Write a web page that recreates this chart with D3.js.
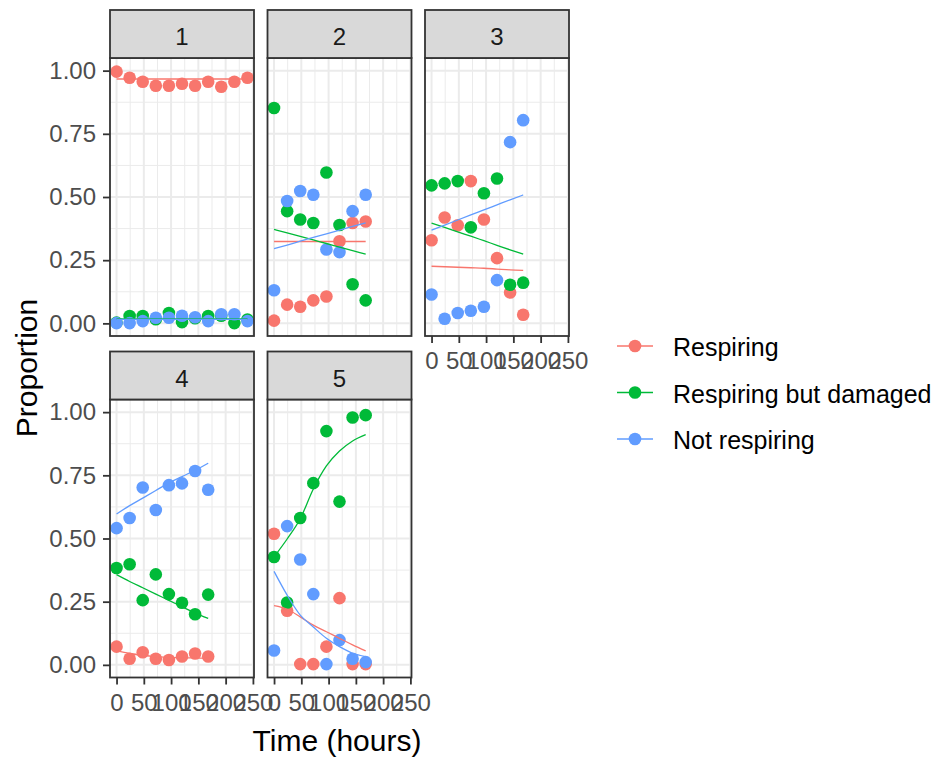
<!DOCTYPE html>
<html>
<head>
<meta charset="utf-8">
<script src="https://cdnjs.cloudflare.com/ajax/libs/d3/7.8.5/d3.min.js"></script>
<style>
	body { margin: 0; background: #fff; }
	text { font-family: "Liberation Sans", Arial, sans-serif; }
</style>
</head>
<body>
<div id="chart"></div>
<script>

// time points (hours)
var timesLong = [0, 24, 48, 72, 96, 120, 144, 168, 192, 216, 240];
var timesShort = [0, 24, 48, 72, 96, 120, 144, 168];

var seriesNames = ["Respiring", "Respiring but damaged", "Not respiring"];
var panelNames = ["1", "2", "3", "4", "5"];

var xTicks = [0, 50, 100, 150, 200, 250];
var xMinor = [25, 75, 125, 175, 225];
var yTicks = [0, 0.25, 0.5, 0.75, 1];
var yMinor = [0.125, 0.375, 0.625, 0.875];

// observed proportions
var p1Resp = [0.996, 0.972, 0.956, 0.94, 0.94, 0.948, 0.94, 0.956, 0.936, 0.956, 0.972];
var p1Dam = [0.003, 0.029, 0.029, 0.016, 0.041, 0.005, 0.02, 0.029, 0.03, 0.001, 0.015];
var p1Not = [0.001, 0.001, 0.009, 0.022, 0.022, 0.03, 0.024, 0.009, 0.036, 0.036, 0.009];

var p2Resp = [0.011, 0.074, 0.066, 0.091, 0.106, 0.325, 0.397, 0.403];
var p2Dam = [0.852, 0.444, 0.411, 0.397, 0.597, 0.389, 0.155, 0.091];
var p2Not = [0.131, 0.484, 0.524, 0.509, 0.292, 0.282, 0.444, 0.509];

var p3Resp = [0.329, 0.419, 0.388, 0.563, 0.411, 0.258, 0.122, 0.034];
var p3Dam = [0.546, 0.554, 0.563, 0.38, 0.515, 0.573, 0.153, 0.161];
var p3Not = [0.114, 0.018, 0.041, 0.05, 0.066, 0.171, 0.717, 0.804];

var p4Resp = [0.072, 0.024, 0.05, 0.024, 0.019, 0.033, 0.045, 0.033];
var p4Dam = [0.383, 0.398, 0.256, 0.358, 0.28, 0.246, 0.2, 0.278];
var p4Not = [0.541, 0.581, 0.702, 0.613, 0.711, 0.718, 0.767, 0.693];

var p5Resp = [0.519, 0.214, 0.003, 0.003, 0.072, 0.264, 0.003, 0.003];
var p5Dam = [0.427, 0.247, 0.581, 0.719, 0.925, 0.646, 0.979, 0.988];
var p5Not = [0.057, 0.549, 0.417, 0.28, 0.003, 0.098, 0.024, 0.011];

// fitted curves
var f1Resp = [0.967, 0.967, 0.967, 0.967, 0.967, 0.967, 0.967, 0.967, 0.967, 0.967, 0.967];
var f1Dam = [0.018, 0.018, 0.018, 0.018, 0.018, 0.018, 0.018, 0.018, 0.018, 0.018, 0.018];
var f1Not = [0.016, 0.016, 0.016, 0.016, 0.016, 0.016, 0.016, 0.016, 0.016, 0.016, 0.016];

var f2Resp = [0.324, 0.324, 0.324, 0.324, 0.324, 0.324, 0.324, 0.324];
var f2Dam = [0.372, 0.358, 0.344, 0.33, 0.316, 0.302, 0.288, 0.274];
var f2Not = [0.296, 0.31, 0.325, 0.34, 0.354, 0.369, 0.384, 0.398];

var f3Resp = [0.226, 0.224, 0.222, 0.22, 0.218, 0.215, 0.212, 0.21];
var f3Dam = [0.397, 0.38, 0.362, 0.345, 0.327, 0.309, 0.291, 0.274];
var f3Not = [0.369, 0.389, 0.409, 0.429, 0.449, 0.469, 0.489, 0.508];

var f4Resp = [0.055, 0.045, 0.038, 0.033, 0.03, 0.028, 0.027, 0.026];
var f4Dam = [0.357, 0.33, 0.305, 0.28, 0.255, 0.23, 0.205, 0.184];
var f4Not = [0.597, 0.63, 0.66, 0.69, 0.72, 0.745, 0.77, 0.798];

var f5Resp = [0.234, 0.22, 0.19, 0.157, 0.131, 0.105, 0.079, 0.055];
var f5Dam = [0.427, 0.498, 0.578, 0.696, 0.787, 0.846, 0.886, 0.911];
var f5Not = [0.37, 0.276, 0.197, 0.15, 0.105, 0.072, 0.046, 0.033];

var colors = ["#F8766D", "#00BA38", "#619CFF"];

var panels = [
	{ name: panelNames[0], col: 0, row: 0, t: timesLong, obs: [p1Resp, p1Dam, p1Not], fit: [f1Resp, f1Dam, f1Not], xAxis: false },
	{ name: panelNames[1], col: 1, row: 0, t: timesShort, obs: [p2Resp, p2Dam, p2Not], fit: [f2Resp, f2Dam, f2Not], xAxis: false },
	{ name: panelNames[2], col: 2, row: 0, t: timesShort, obs: [p3Resp, p3Dam, p3Not], fit: [f3Resp, f3Dam, f3Not], xAxis: true },
	{ name: panelNames[3], col: 0, row: 1, t: timesShort, obs: [p4Resp, p4Dam, p4Not], fit: [f4Resp, f4Dam, f4Not], xAxis: true },
	{ name: panelNames[4], col: 1, row: 1, t: timesShort, obs: [p5Resp, p5Dam, p5Not], fit: [f5Resp, f5Dam, f5Not], xAxis: true }
];

var totalWidth = 937;
var totalHeight = 758;

var panelW = 144;
var plotH = 278;
var stripH = 48;
var colLeft = [110, 267.5, 425];
var rowTop = [10, 351.5];

var svg = d3.select("#chart").append("svg")
	.attr("width", totalWidth)
	.attr("height", totalHeight);

svg.append("rect")
	.attr("width", totalWidth)
	.attr("height", totalHeight)
	.attr("fill", "#fff");

panels.forEach(function (p) {

	var x0 = colLeft[p.col];
	var y0 = rowTop[p.row] + stripH;

	var xScale = d3.scaleLinear().domain([-12, 252]).range([x0, x0 + panelW]);
	var yScale = d3.scaleLinear().domain([-0.05, 1.05]).range([y0 + plotH, y0]);

	var g = svg.append("g").attr("class", "panel");

	// grid
	g.selectAll(".vminor").data(xMinor).enter().append("line")
		.attr("x1", d => xScale(d)).attr("x2", d => xScale(d))
		.attr("y1", y0).attr("y2", y0 + plotH)
		.attr("stroke", "#EBEBEB").attr("stroke-width", 1);
	g.selectAll(".hminor").data(yMinor).enter().append("line")
		.attr("x1", x0).attr("x2", x0 + panelW)
		.attr("y1", d => yScale(d)).attr("y2", d => yScale(d))
		.attr("stroke", "#EBEBEB").attr("stroke-width", 1);
	g.selectAll(".vmajor").data(xTicks).enter().append("line")
		.attr("x1", d => xScale(d)).attr("x2", d => xScale(d))
		.attr("y1", y0).attr("y2", y0 + plotH)
		.attr("stroke", "#EBEBEB").attr("stroke-width", 2);
	g.selectAll(".hmajor").data(yTicks).enter().append("line")
		.attr("x1", x0).attr("x2", x0 + panelW)
		.attr("y1", d => yScale(d)).attr("y2", d => yScale(d))
		.attr("stroke", "#EBEBEB").attr("stroke-width", 2);

	// points, one group per series
	p.obs.forEach(function (vals, s) {
		g.selectAll(".pt" + s).data(vals).enter().append("circle")
			.attr("cx", (d, i) => xScale(p.t[i]))
			.attr("cy", d => yScale(d))
			.attr("r", 6.3)
			.attr("fill", colors[s]);
	});

	// smoothers
	p.fit.forEach(function (vals, s) {
		var line = d3.line()
			.x((d, i) => xScale(p.t[i]))
			.y(d => yScale(d))
			.curve(d3.curveMonotoneX);
		g.append("path")
			.datum(vals)
			.attr("d", line)
			.attr("fill", "none")
			.attr("stroke", colors[s])
			.attr("stroke-width", 1.3);
	});

	// border
	g.append("rect")
		.attr("x", x0).attr("y", y0)
		.attr("width", panelW).attr("height", plotH)
		.attr("fill", "none")
		.attr("stroke", "#333")
		.attr("stroke-width", 1.8);

	// strip
	g.append("rect")
		.attr("x", x0).attr("y", rowTop[p.row])
		.attr("width", panelW).attr("height", stripH)
		.attr("fill", "#D9D9D9")
		.attr("stroke", "#333")
		.attr("stroke-width", 1.8);
	g.append("text")
		.attr("x", x0 + panelW / 2)
		.attr("y", rowTop[p.row] + 35)
		.attr("text-anchor", "middle")
		.attr("font-size", 24)
		.attr("fill", "#1A1A1A")
		.text(p.name);

	if (p.col === 0) {
		var yAxis = d3.axisLeft(yScale)
			.tickValues(yTicks)
			.tickFormat(d3.format(".2f"))
			.tickSize(7)
			.tickPadding(7);
		var ya = g.append("g").attr("transform", "translate(" + x0 + ",0)").call(yAxis);
		styleAxis(ya);
	}
	if (p.xAxis) {
		var xAxis = d3.axisBottom(xScale)
			.tickValues(xTicks)
			.tickSize(7)
			.tickPadding(9);
		var xa = g.append("g").attr("transform", "translate(0," + (y0 + plotH) + ")").call(xAxis);
		styleAxis(xa);
	}
});

function styleAxis(a) {
	a.select(".domain").remove();
	a.selectAll(".tick line").attr("stroke", "#333").attr("stroke-width", 1.8);
	a.selectAll(".tick text")
		.attr("fill", "#4D4D4D")
		.attr("font-size", 24)
		.attr("font-family", "'Liberation Sans', Arial, sans-serif");
}

// axis titles
svg.append("text")
	.attr("transform", "translate(37,368) rotate(-90)")
	.attr("text-anchor", "middle")
	.attr("font-size", 30)
	.attr("fill", "#000")
	.text("Proportion");

svg.append("text")
	.attr("x", 337)
	.attr("y", 751)
	.attr("text-anchor", "middle")
	.attr("font-size", 30)
	.attr("fill", "#000")
	.text("Time (hours)");

// legend
var legendY = d3.scalePoint().domain(seriesNames).range([346, 439]);
var legend = svg.append("g").attr("class", "legend");
seriesNames.forEach(function (name, s) {
	var ly = legendY(name);
	legend.append("line")
		.attr("x1", 617).attr("x2", 653)
		.attr("y1", ly).attr("y2", ly)
		.attr("stroke", colors[s])
		.attr("stroke-width", 1.3);
	legend.append("circle")
		.attr("cx", 635).attr("cy", ly)
		.attr("r", 6.3)
		.attr("fill", colors[s]);
	legend.append("text")
		.attr("x", 673)
		.attr("y", ly + 10)
		.attr("font-size", 25)
		.attr("fill", "#000")
		.text(name);
});

</script>
</body>
</html>
